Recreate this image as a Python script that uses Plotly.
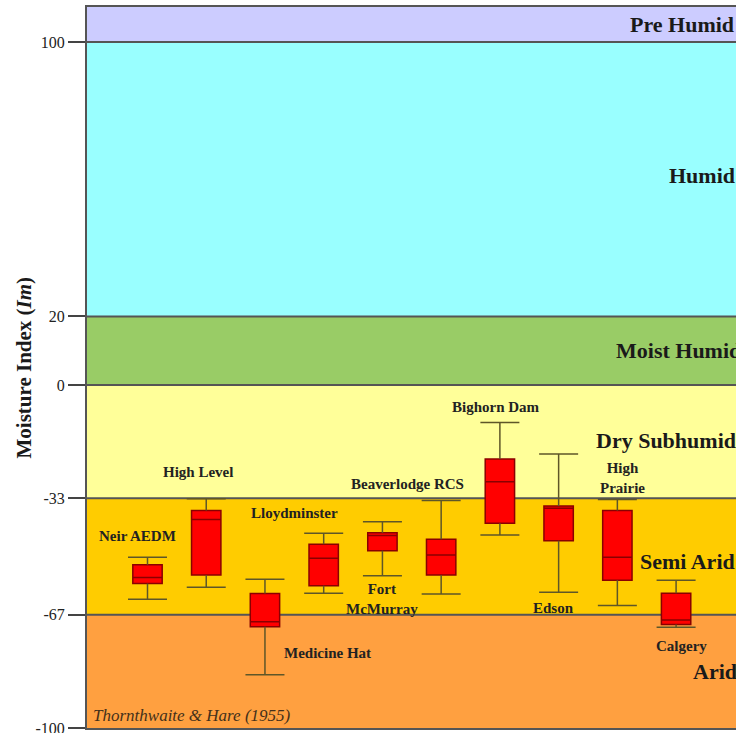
import plotly.graph_objects as go

# Moisture index zones (Thornthwaite & Hare, 1955)
zone_names = ["Arid", "Semi Arid", "Dry Subhumid", "Moist Humid", "Humid", "Pre Humid"]
zone_lower = [-100, -67, -33, 0, 20, 100]
zone_upper = [-67, -33, 0, 20, 100, 110.2]
zone_colors = ["#ffa040", "#ffcc00", "#ffff99", "#99cc66", "#99ffff", "#ccccff"]

# Station statistics of the moisture index Im
stations = ["Neir AEDM", "High Level", "Medicine Hat", "Lloydminster", "Fort McMurray",
            "Beaverlodge RCS", "Bighorn Dam", "Edson", "High Prairie", "Calgery"]
im_low = [-62.5, -59.0, -84.5, -60.7, -55.6, -60.9, -43.7, -60.4, -64.3, -70.6]
im_q1 = [-57.9, -55.4, -70.5, -58.5, -48.3, -55.4, -40.3, -45.4, -56.9, -69.8]
im_median = [-56.1, -39.2, -69.0, -50.5, -43.9, -49.6, -28.2, -35.9, -50.2, -68.5]
im_q3 = [-52.4, -36.6, -60.8, -46.4, -43.1, -45.0, -21.6, -35.3, -36.6, -60.7]
im_high = [-50.2, -33.2, -56.6, -43.2, -39.9, -33.7, -10.9, -20.1, -33.4, -56.9]

tick_values = [-100, -67, -33, 0, 20, 100]
tick_labels = ["-100", "-67", "-33", "0", "20", "100"]

SERIF = "Liberation Serif, Times New Roman, serif"
positions = list(range(1, len(stations) + 1))
box_width = 0.5
cap_half = 0.332

fig = go.Figure()

# climate zone bands
for lo, hi, col in zip(zone_lower, zone_upper, zone_colors):
    fig.add_shape(type="rect", xref="paper", x0=0, x1=1, yref="y", y0=lo, y1=hi,
                  fillcolor=col, line=dict(width=0), layer="below")
for lo in zone_lower[1:]:
    fig.add_shape(type="line", xref="paper", x0=0, x1=1, yref="y", y0=lo, y1=lo,
                  line=dict(color="#555555", width=2), layer="below")

# whiskers and caps
wx, wy = [], []
for x, lo, q1, q3, hi in zip(positions, im_low, im_q1, im_q3, im_high):
    wx += [x, x, None, x, x, None]
    wy += [q3, hi, None, lo, q1, None]
    wx += [x - cap_half, x + cap_half, None, x - cap_half, x + cap_half, None]
    wy += [hi, hi, None, lo, lo, None]
fig.add_trace(go.Scatter(x=wx, y=wy, mode="lines", line=dict(color="#5e5628", width=1.5),
                         hoverinfo="skip", showlegend=False))

# interquartile boxes with median
fig.add_trace(go.Box(x=positions, q1=im_q1, median=im_median, q3=im_q3,
                     lowerfence=im_q1, upperfence=im_q3, width=box_width,
                     fillcolor="#ff0000", line=dict(color="#8a0000", width=1.5),
                     whiskerwidth=0, boxpoints=False, showlegend=False))

# station names
label_x = [0.83, 1.865, 4.06, 3.50, 5.0, 5.42, 6.94, 7.905, 9.08, 10.085]
label_y = [-44.0, -25.3, -78.1, -37.3, -62.4, -28.9, -6.4, -64.9, -27.0, -76.1]
label_text = ["Neir AEDM", "High Level", "Medicine Hat", "Lloydminster", "Fort<br>McMurray",
              "Beaverlodge RCS", "Bighorn Dam", "Edson", "High<br>Prairie", "Calgery"]
for x, y, t in zip(label_x, label_y, label_text):
    fig.add_annotation(x=x, y=y, text=f"<b>{t}</b>", showarrow=False,
                       xanchor="center", yanchor="middle",
                       font=dict(family=SERIF, size=15, color="#222222"))

# zone names
zone_label_x = [10.25, 9.35, 8.60, 8.94, 9.84, 9.18]
zone_label_y = [-83.6, -51.5, -16.3, 10.0, 61.0, 105.2]
for name, x, y in zip(zone_names, zone_label_x, zone_label_y):
    fig.add_annotation(x=x, y=y, text=f"<b>{name}</b>", showarrow=False,
                       xanchor="left", yanchor="middle",
                       font=dict(family=SERIF, size=22, color="#1a1a1a"))

fig.add_annotation(x=0.03, y=-96.5, text="<i>Thornthwaite &amp; Hare (1955)</i>",
                   showarrow=False, xanchor="left", yanchor="middle",
                   font=dict(family=SERIF, size=17, color="#45301a"))

fig.add_annotation(xref="paper", yref="paper", x=-0.0986, y=0.5,
                   text="<b>Moisture Index (<i>Im</i>)</b>", textangle=-90,
                   showarrow=False, xanchor="center", yanchor="middle",
                   font=dict(family=SERIF, size=21, color="#1a1a1a"))

fig.update_layout(
    width=736, height=733,
    margin=dict(l=87, r=0, t=7, b=5, autoexpand=False),
    plot_bgcolor="white", paper_bgcolor="white",
    showlegend=False,
    xaxis=dict(range=[-0.03, 11.02], showticklabels=False, ticks="", showgrid=False,
               zeroline=False, showline=True, mirror=True, linecolor="#555555", linewidth=2,
               automargin=False),
    yaxis=dict(range=[-100, 110.2], tickvals=tick_values, ticktext=tick_labels,
               ticks="outside", ticklen=17, tickwidth=2, tickcolor="#444444",
               tickfont=dict(family=SERIF, size=16, color="#222222"),
               ticklabeloverflow="allow", automargin=False,
               showgrid=False, zeroline=False, showline=True, linecolor="#555555",
               linewidth=2, mirror=False),
)

fig.write_html("out.html")
